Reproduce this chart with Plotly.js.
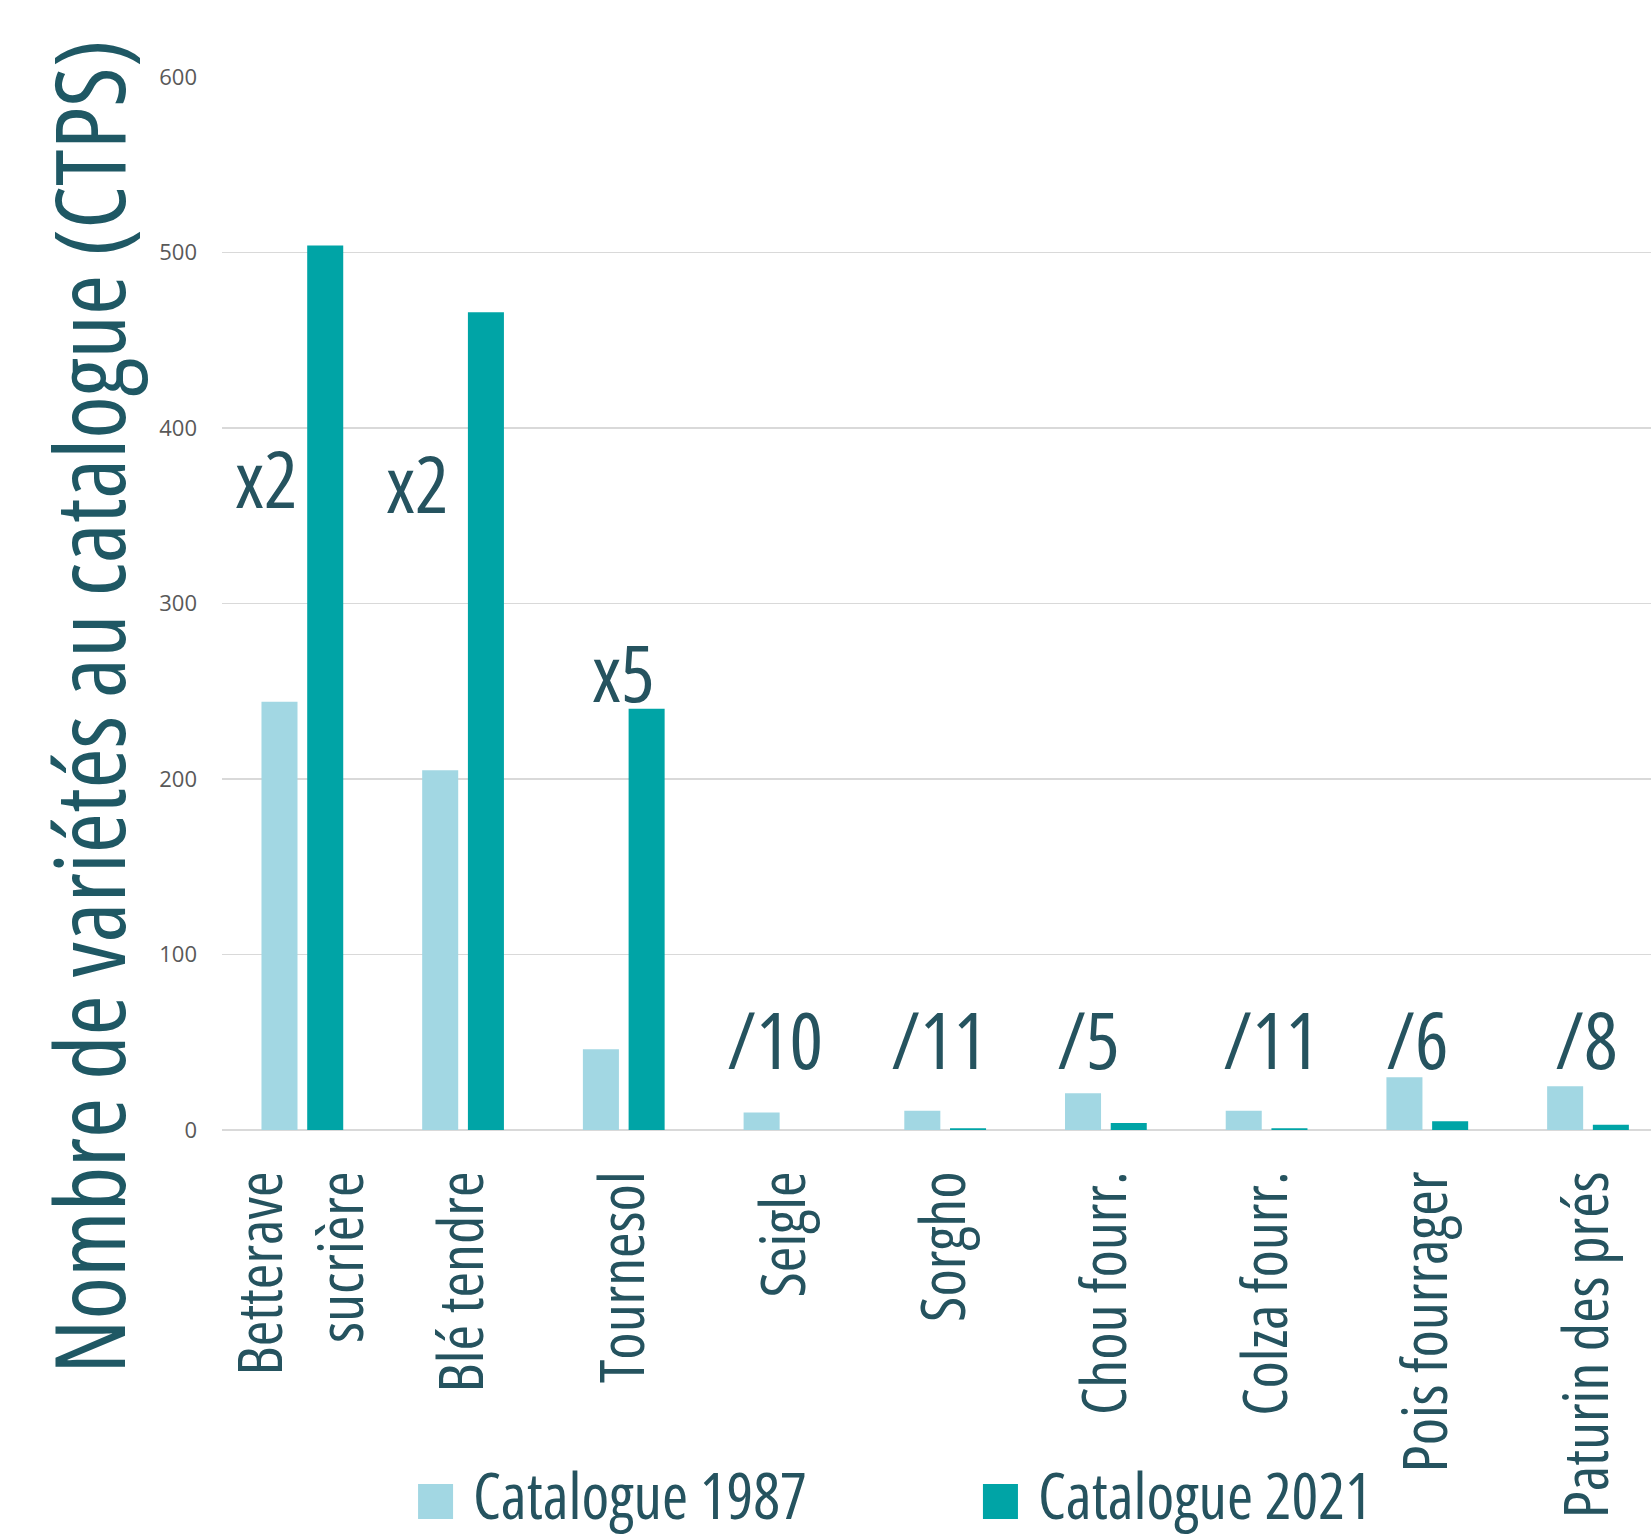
<!DOCTYPE html>
<html>
<head>
<meta charset="utf-8">
<script src="https://cdn.plot.ly/plotly-3.0.1.min.js"></script>
<style>
html,body{margin:0;padding:0;background:#fff;overflow:hidden;}
#chart{width:1651px;height:1536px;}
.xtick text, text.annotation-text{font-stretch:75% !important;}
</style>
</head>
<body>
<div id="chart"></div>
<script>
// ---- data ----
const categories = ["Betterave<br>sucrière", "Blé tendre", "Tournesol", "Seigle", "Sorgho",
                    "Chou fourr.", "Colza fourr.", "Pois fourrager", "Paturin des prés"];
const catalogue1987 = [244, 205, 46, 10, 11, 21, 11, 30, 25];
const catalogue2021 = [504, 466, 240, 0, 1, 4, 1, 5, 3];
const ratioLabels = ["x2", "x2", "x5", "/10", "/11", "/5", "/11", "/6", "/8"];
const seriesNames = ["Catalogue 1987", "Catalogue 2021"];
const yTickValues = [0, 100, 200, 300, 400, 500, 600];

// ---- style ----
const FONT = '"Open Sans", sans-serif';
const TXT = '#25535F';
const C1987 = '#A2D7E3';
const C2021 = '#00A4A6';

// label placement (category offset, y level) — presentation only
const labelPlacement = [[-0.221, 372], [-0.286, 369], [0.0, 261], [-0.06, 52], [-0.04, 52],
                        [-0.11, 52], [0.03, 52], [-0.06, 52], [-0.01, 52]];

const traces = [
  {type: 'bar', name: seriesNames[0], x: categories, y: catalogue1987,
   marker: {color: C1987, line: {width: 0}}, showlegend: false, hoverinfo: 'x+y'},
  {type: 'bar', name: seriesNames[1], x: categories, y: catalogue2021,
   marker: {color: C2021, line: {width: 0}}, showlegend: false, hoverinfo: 'x+y'}
];

const annotations = ratioLabels.map((t, i) => ({
  text: t, xref: 'x', yref: 'y',
  x: i + labelPlacement[i][0], y: labelPlacement[i][1],
  xanchor: 'center', yanchor: 'middle', showarrow: false,
  font: {family: FONT, size: 79, color: TXT}
}));

// y-axis title
annotations.push({
  text: 'Nombre de variétés au catalogue (CTPS)', xref: 'paper', yref: 'paper',
  x: -0.0945, y: 0.4027, textangle: -90, showarrow: false,
  xanchor: 'center', yanchor: 'middle',
  font: {family: FONT, size: 97, color: '#1F5864'}
});

// legend (drawn manually for large symbols)
const legendX = [[0.1372, 0.1617, 0.1743], [0.5325, 0.5570, 0.5696]];
const legendColors = [C1987, C2021];
const shapes = [];
seriesNames.forEach((n, i) => {
  shapes.push({type: 'rect', xref: 'paper', yref: 'paper',
    x0: legendX[i][0], x1: legendX[i][1], y0: -0.3694, y1: -0.3362,
    fillcolor: legendColors[i], line: {width: 0}});
  annotations.push({text: n, xref: 'paper', yref: 'paper', x: legendX[i][2], y: -0.3457,
    xanchor: 'left', yanchor: 'middle', showarrow: false,
    font: {family: FONT, size: 63, color: TXT}});
});

const layout = {
  width: 1651, height: 1536,
  margin: {l: 222, r: 0, t: 77, b: 406, pad: 0},
  paper_bgcolor: '#ffffff', plot_bgcolor: '#ffffff',
  barmode: 'group', bargap: 0.431, bargroupgap: 0.212,
  showlegend: false,
  xaxis: {
    type: 'category', tickangle: -90, automargin: false,
    range: [-0.5, 8.392],
    tickfont: {family: FONT, size: 62, color: TXT},
    showgrid: false, zeroline: false, showline: false, ticks: '', ticklen: 0,
    ticklabelstandoff: 28
  },
  yaxis: {
    range: [0, 600], tickvals: yTickValues, automargin: false,
    tickfont: {family: FONT, size: 22, color: '#595959'},
    showgrid: true, gridcolor: '#D9D9D9', gridwidth: 1.5,
    zeroline: true, zerolinecolor: '#D9D9D9', zerolinewidth: 2,
    showline: false, ticks: '', ticklabelstandoff: 24
  },
  annotations: annotations,
  shapes: shapes
};

Plotly.newPlot('chart', traces, layout, {displayModeBar: false, staticPlot: true});
</script>
</body>
</html>
